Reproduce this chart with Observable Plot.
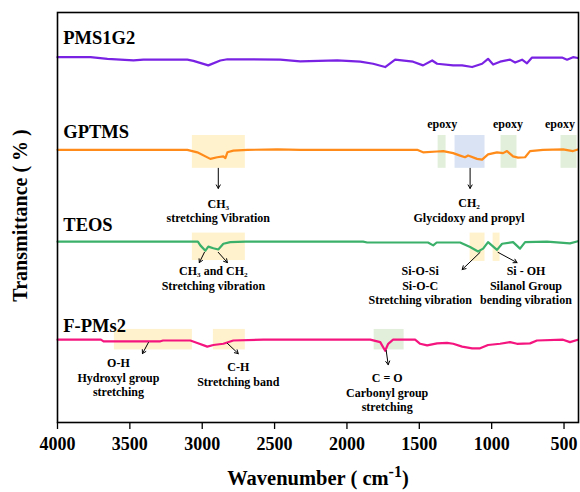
<!DOCTYPE html>
<html>
<head>
<meta charset="utf-8">
<script src="https://cdn.jsdelivr.net/npm/d3@7"></script>
<script src="https://cdn.jsdelivr.net/npm/@observablehq/plot@0.6"></script>
<style>
  html, body { margin: 0; padding: 0; background: #fff; }
  #chart { width: 580px; height: 492px; }
</style>
</head>
<body>
<div id="chart"></div>
<script>
// ---- Data (wavenumber cm^-1, offset transmittance) ----
const PMS1G2 = [[4000,89.1],[3772,89.1],[3655,88.7],[3475,88.3],[3406,88.5],[3103,88.5],[3061,88.2],[2958,87.1],[2875,88.3],[2826,88.6],[2461,88.5],[2323,88.1],[2067,88.3],[1908,88.0],[1819,87.5],[1736,86.7],[1667,88.5],[1543,88.0],[1474,87.1],[1411,88.3],[1377,87.5],[1266,87.1],[1204,87.1],[1135,86.7],[1066,87.5],[1025,88.7],[990,87.3],[942,88.0],[873,88.5],[838,87.8],[790,88.5],[756,87.6],[721,89.0],[514,89.0],[479,88.5],[438,89.1],[404,88.9]];
const GPTMS = [[4000,66.5],[3103,66.5],[3034,65.9],[2944,64.3],[2896,64.7],[2854,64.9],[2840,64.5],[2826,65.9],[2785,66.3],[2688,66.5],[2481,66.6],[2323,66.5],[1515,66.5],[1474,65.9],[1377,66.1],[1335,66.2],[1266,65.7],[1218,65.1],[1184,64.7],[1163,65.1],[1101,64.3],[1066,64.1],[1025,65.4],[963,65.9],[921,65.7],[894,66.2],[852,64.9],[818,64.6],[769,64.7],[735,66.2],[645,66.5],[507,66.6],[438,66.2],[404,66.6]];
const TEOS = [[4000,44.1],[3030,44.1],[3013,43.2],[2978,41.9],[2958,42.9],[2923,42.5],[2889,42.2],[2854,43.6],[2806,44.0],[2700,44.1],[1888,44.1],[1860,43.9],[1494,43.9],[1440,43.9],[1404,43.2],[1380,43.9],[1218,43.9],[1149,42.8],[1094,41.7],[1059,42.4],[1025,44.0],[963,42.1],[928,43.6],[852,44.0],[804,42.4],[769,44.0],[618,44.1],[459,43.7],[404,44.2]];
const FPMs2 = [[4000,20.2],[3700,20.2],[3682,19.8],[3289,19.8],[3270,20.0],[3082,20.0],[3034,19.4],[2965,18.5],[2923,18.9],[2854,19.2],[2785,20.0],[2578,20.2],[1839,20.2],[1770,19.6],[1736,17.5],[1715,19.2],[1681,20.2],[1529,20.2],[1494,19.2],[1446,18.8],[1377,19.3],[1308,19.4],[1266,19.2],[1204,18.5],[1135,18.1],[1080,18.1],[1025,18.9],[942,19.2],[873,19.6],[825,19.2],[735,19.3],[687,20.0],[507,20.2],[459,19.6],[404,20.2]];

const seriesNames = ["PMS1G2", "GPTMS", "TEOS", "F-PMs2"];
const seriesData = [PMS1G2, GPTMS, TEOS, FPMs2];
const seriesColors = ["#7a22e4", "#ff8c1a", "#3bb06a", "#f5157f"];
const seriesLabelY = [95.6, 72.6, 50.0, 25.3];

const xTicks = [4000, 3500, 3000, 2500, 2000, 1500, 1000, 500];

// highlighted bands: [w1, w2, v1, v2, kind]
const bands = [
  [3068, 2702, 70.0, 62.0, "y"],
  [1370, 1315, 70.0, 62.0, "g"],
  [1253, 1046, 70.0, 62.0, "b"],
  [935, 825, 70.0, 62.0, "g"],
  [521, 410, 70.0, 62.0, "g"],
  [3068, 2702, 46.2, 39.5, "y"],
  [1149, 1046, 46.2, 39.3, "y"],
  [990, 942, 46.2, 39.3, "y"],
  [3607, 3068, 22.7, 17.7, "y"],
  [2923, 2702, 22.7, 17.7, "y"],
  [1812, 1605, 22.7, 17.7, "g"]
];
const bandFill = {y: "#fff2cc", g: "#e2efda", b: "#dae3f3"};

const epoxyX = [1342, 887, 528];

// annotations: text, x, y(top)
const notes = [
  ["CH\u2083\nstretching Vibration", 2889, 54.9],
  ["CH\u2082\nGlycidoxy and propyl", 1156, 55.1],
  ["CH\u2083 and CH\u2082\nStretching vibration", 2923, 38.5],
  ["Si-O-Si\nSi-O-C\nStretching vibration", 1494, 38.5],
  ["Si - OH\nSilanol Group\nbending vibration", 763, 38.5],
  ["O-H\nHydroxyl group\nstretching", 3579, 16.1],
  ["C-H\nStretching band", 2751, 15.1],
  ["C = O\nCarbonyl group\nstretching", 1722, 12.4]
];
// arrows: x1,y1,x2,y2
const arrows = [
  [2889, 62.0, 2889, 57.1],
  [1149, 62.0, 1149, 57.1],
  [2985, 41.5, 3020, 39.0],
  [2889, 41.5, 2826, 39.0],
  [1080, 41.5, 1204, 37.3],
  [956, 41.5, 825, 39.0],
  [3372, 19.5, 3413, 16.8],
  [2826, 19.3, 2751, 16.8],
  [1729, 17.6, 1715, 14.1]
];

const FONT = "'Liberation Serif', 'Times New Roman', Times, serif";

const lineRows = seriesData.flatMap((s, i) => s.map(([w, v]) => ({w, v, name: seriesNames[i]})));
const bandRows = bands.map(([x1, x2, y1, y2, k]) => ({x1, x2, y1, y2, fill: bandFill[k]}));
const noteRows = notes.map(([text, x, y]) => ({text, x, y}));
const arrowRows = arrows.map(([x1, y1, x2, y2]) => ({x1, y1, x2, y2}));
const labelRows = seriesNames.map((n, i) => ({text: n, x: 3960, y: seriesLabelY[i]}));

const plot = Plot.plot({
  width: 580,
  height: 492,
  marginLeft: 57,
  marginRight: 2,
  marginTop: 12,
  marginBottom: 70,
  style: {fontFamily: FONT, fontWeight: "bold", background: "#fff", color: "#000"},
  x: {domain: [4000, 400]},
  y: {domain: [0, 100], axis: null},
  color: {domain: seriesNames, range: seriesColors},
  marks: [
    Plot.rect(bandRows, {x1: "x1", x2: "x2", y1: "y1", y2: "y2", fill: "fill"}),
    Plot.line(lineRows, {x: "w", y: "v", z: "name", stroke: "name", strokeWidth: 2.2, curve: "linear"}),
    Plot.text(labelRows, {x: "x", y: "y", text: "text", textAnchor: "start", lineAnchor: "top", fontSize: 18.5, fontWeight: "bold", fill: "#000"}),
    Plot.text(epoxyX, {x: d => d, y: () => 73.9, text: () => "epoxy", lineAnchor: "top", fontSize: 12, fontWeight: "bold", fill: "#000"}),
    Plot.text(noteRows, {x: "x", y: "y", text: "text", lineAnchor: "top", lineHeight: 1.22, fontSize: 12, fontWeight: "bold", fill: "#000"}),
    Plot.arrow(arrowRows, {x1: "x1", y1: "y1", x2: "x2", y2: "y2", stroke: "#000", strokeWidth: 1, headLength: 6}),
    Plot.axisX({ticks: xTicks, tickSize: 7, tickPadding: 8, fontSize: 18, fontWeight: "bold", label: null, tickFormat: d => String(d), strokeWidth: 1.3}),
    Plot.text(["Transmittance ( % )"], {x: () => 4255, y: () => 50.5, rotate: -90, fontSize: 20, fontWeight: "bold", fill: "#000"}),
    Plot.frame({stroke: "#000", strokeWidth: 1.6})
  ]
});

document.getElementById("chart").appendChild(plot);

// x-axis title with superscript
const svg = d3.select(plot);
const t = svg.append("text")
  .attr("x", 318)
  .attr("y", 485)
  .attr("text-anchor", "middle")
  .attr("font-family", FONT)
  .attr("font-weight", "bold")
  .attr("font-size", 20.5)
  .attr("fill", "#000");
t.append("tspan").text("Wavenumber ( cm");
t.append("tspan").attr("dy", -8).attr("font-size", 16).text("-1");
t.append("tspan").attr("dy", 8).text(")");
</script>
</body>
</html>
